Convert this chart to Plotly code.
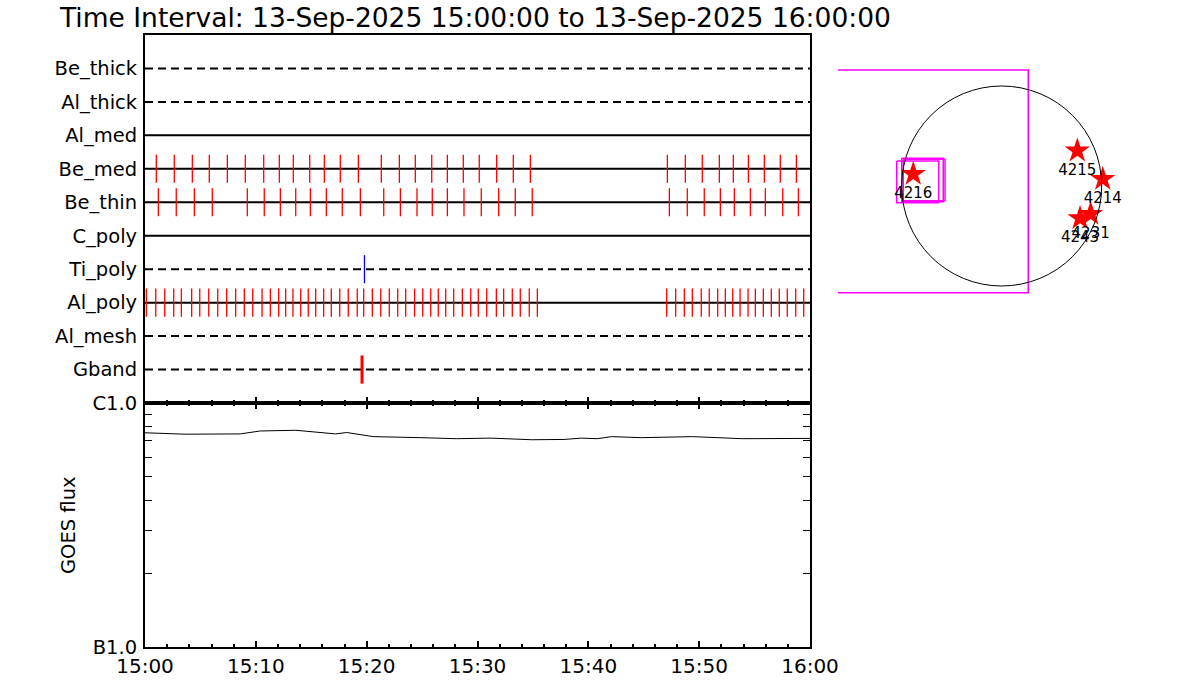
import pandas as pd
import plotly.graph_objects as go

START = pd.Timestamp("2025-09-13 15:00:00")
FONT = "DejaVu Sans"
W, H = 1200, 700

# filter rows, top to bottom
ROW_NAMES = ["Be_thick", "Al_thick", "Al_med", "Be_med", "Be_thin",
             "C_poly", "Ti_poly", "Al_poly", "Al_mesh", "Gband"]
ROW_DASHED = [True, True, False, False, False, False, True, False, True, True]

# exposure times (minutes after 15:00)
BE_MED_MIN = [1.02, 2.64, 4.27, 5.80, 7.43, 9.05, 10.71, 12.12, 13.38, 14.86,
              16.18, 17.62, 19.25, 21.32, 22.95, 24.39, 25.87, 27.28, 28.72,
              30.16, 31.73, 33.23, 34.77,
              47.13, 48.75, 50.28, 51.82, 53.08, 54.44, 55.88, 57.32, 58.77]
BE_THIN_MIN = [1.20, 2.82, 4.45, 6.07, 9.23, 10.76, 12.21, 13.60, 14.92, 16.36,
               17.80, 19.43, 21.54, 23.04, 24.54, 25.92, 27.28, 28.78, 30.34,
               31.91, 33.41, 34.94,
               47.31, 48.93, 50.46, 51.91, 53.17, 54.62, 55.97, 57.54, 58.95]
AL_POLY_MIN = [0.12, 0.97, 1.78, 2.59, 3.28, 4.21, 4.94, 5.75, 6.56, 7.37,
               8.18, 8.96, 9.72, 10.56, 11.31, 12.06, 12.69, 13.35, 14.05,
               14.73, 15.40, 16.12, 16.81, 17.57, 18.34, 19.15, 19.73, 20.51,
               21.27, 22.04, 22.80, 23.52, 24.32, 25.06, 25.78, 26.46, 27.13,
               27.85, 28.63, 29.39, 30.07, 30.83, 31.70, 32.36, 33.14, 33.86,
               34.67, 35.40,
               47.07, 47.88, 48.66, 49.38, 50.19, 50.91, 51.67, 52.36, 53.03,
               53.69, 54.41, 55.07, 55.79, 56.51, 57.23, 57.95, 58.71, 59.43]
TI_POLY_MIN = [19.80]
GBAND_MIN = [19.58]

# GOES 1-8 A flux
GOES_MIN = [0, 3.6, 8.6, 10.4, 13.6, 17.2, 18.2, 20.6, 24.9, 28.1, 31.2, 34.9,
            37.8, 39.4, 40.8, 42.1, 44.8, 49.4, 53.9, 60]
GOES_FLUX = [7.55e-6, 7.45e-6, 7.47e-6, 7.68e-6, 7.73e-6, 7.47e-6, 7.57e-6,
             7.28e-6, 7.21e-6, 7.14e-6, 7.18e-6, 7.07e-6, 7.09e-6, 7.18e-6,
             7.14e-6, 7.28e-6, 7.21e-6, 7.28e-6, 7.14e-6, 7.16e-6]
GOES_MINOR = [2e-6, 3e-6, 4e-6, 5e-6, 6e-6, 7e-6, 8e-6, 9e-6]

# active regions on the disk (arcsec)
AR_NUMS = ["4216", "4215", "4214", "4243", "4231"]
AR_X = [-849, 726, 970, 752, 854]
AR_Y = [115, 339, 67, -310, -269]
SUN_R = 960

# field-of-view boxes (arcsec): x0, x1, y0, y1
FOV_BIG = [-2000, 255, -1024, 1114]
FOV_SMALL = [[-1008, -605, -160, 240],
             [-960, -561, -151, 267],
             [-945, -544, -141, 257]]


def to_time(mins):
    return [START + pd.Timedelta(minutes=m) for m in mins]


def px_x(p):
    return p / W


def px_y(p):
    return 1 - p / H


fig = go.Figure()

t0, t1 = to_time([0, 60])
n_rows = len(ROW_NAMES)
row_y = [n_rows - i for i in range(n_rows)]

for name, y, dashed in zip(ROW_NAMES, row_y, ROW_DASHED):
    fig.add_trace(go.Scatter(
        x=[t0, t1], y=[y, y], mode="lines", xaxis="x", yaxis="y",
        line=dict(color="black", width=2, dash="8px,5px" if dashed else "solid"),
        hoverinfo="skip", showlegend=False,
    ))

exposures = [("Be_med", BE_MED_MIN, "#FF0000", 1.3),
             ("Be_thin", BE_THIN_MIN, "#FF0000", 1.3),
             ("Al_poly", AL_POLY_MIN, "#FF0000", 1.3),
             ("Ti_poly", TI_POLY_MIN, "#0000FF", 1.3),
             ("Gband", GBAND_MIN, "#FF0000", 3)]
for name, mins, color, width in exposures:
    y = row_y[ROW_NAMES.index(name)]
    xs, ys = [], []
    for t in to_time(mins):
        xs += [t, t, None]
        ys += [y - 0.42, y + 0.42, None]
    fig.add_trace(go.Scatter(
        x=xs, y=ys, mode="lines", xaxis="x", yaxis="y",
        line=dict(color=color, width=width),
        hoverinfo="skip", showlegend=False,
    ))

# GOES panel
fig.add_trace(go.Scatter(
    x=to_time(GOES_MIN), y=GOES_FLUX, mode="lines", xaxis="x2", yaxis="y2",
    line=dict(color="black", width=1), showlegend=False,
))

# solar disk panel
fig.add_shape(type="circle", xref="x3", yref="y3",
              x0=-SUN_R, x1=SUN_R, y0=-SUN_R, y1=SUN_R,
              line=dict(color="black", width=1))
for box in [FOV_BIG] + FOV_SMALL:
    bx0, bx1, by0, by1 = box
    fig.add_trace(go.Scatter(
        x=[bx0, bx1, bx1, bx0, bx0], y=[by1, by1, by0, by0, by1],
        mode="lines", xaxis="x3", yaxis="y3",
        line=dict(color="#FF00FF", width=1.5), showlegend=False,
    ))
fig.add_trace(go.Scatter(
    x=AR_X, y=AR_Y, text=AR_NUMS, mode="markers+text", xaxis="x3", yaxis="y3",
    marker=dict(symbol="star", size=19, color="#FF0000", line=dict(width=0)),
    textposition="bottom center", textfont=dict(family=FONT, size=15, color="black"),
    showlegend=False,
))

x_dom = [px_x(145), px_x(810)]
top_dom = [px_y(403), px_y(35)]
goes_dom = [px_y(647), px_y(403)]
x3_dom = [px_x(838), px_x(1166)]
y3_dom = [px_y(337), px_y(35)]
scale = SUN_R / 100.0  # arcsec per pixel

common_x = dict(
    type="date", range=[t0, t1], domain=x_dom, automargin=False,
    showline=True, linecolor="black", linewidth=2, showgrid=False, zeroline=False,
    ticks="inside", ticklen=6, tickwidth=2, tickcolor="black", dtick=600000,
    minor=dict(ticks="inside", ticklen=3, tickwidth=1.5, tickcolor="black", dtick=120000),
)

fig.update_layout(
    template="none",
    width=W, height=H,
    margin=dict(l=0, r=0, t=0, b=0, pad=0),
    paper_bgcolor="white", plot_bgcolor="white",
    font=dict(family=FONT, size=19.5, color="black"),
    showlegend=False,
    xaxis=dict(common_x, anchor="y", mirror=True, showticklabels=False),
    yaxis=dict(
        domain=top_dom, range=[0, n_rows + 1], anchor="x", automargin=False,
        showline=True, linecolor="black", linewidth=2, mirror=True,
        showgrid=False, zeroline=False, ticks="",
        tickmode="array", tickvals=row_y, ticktext=ROW_NAMES,
        tickfont=dict(size=19.5), ticklabelstandoff=2,
    ),
    xaxis2=dict(common_x, anchor="y2", mirror="ticks", showticklabels=True,
                tickformat="%H:%M", tickfont=dict(size=20), ticklabelstandoff=0),
    yaxis2=dict(
        domain=goes_dom, type="log", range=[-6, -5], anchor="x2", automargin=False,
        showline=True, linecolor="black", linewidth=2, mirror="ticks",
        showgrid=False, zeroline=False, ticks="inside", ticklen=7, tickcolor="black",
        tickmode="array", tickvals=[1e-6, 1e-5], ticktext=["B1.0", "C1.0"],
        tickfont=dict(size=19.5), ticklabelstandoff=2,
        minor=dict(ticks="inside", ticklen=7, tickcolor="black", tickmode="array",
                   tickvals=GOES_MINOR),
    ),
    xaxis3=dict(
        domain=x3_dom, anchor="y3", visible=False, automargin=False,
        range=[(838 - 1001.7) * scale, (1166 - 1001.7) * scale],
    ),
    yaxis3=dict(
        domain=y3_dom, anchor="x3", visible=False, automargin=False,
        range=[-(337 - 186) * scale, (186 - 35) * scale],
    ),
)

fig.add_annotation(
    text="Time Interval: 13-Sep-2025 15:00:00 to 13-Sep-2025 16:00:00",
    xref="paper", yref="paper", x=px_x(57), y=px_y(0),
    xanchor="left", yanchor="top", showarrow=False,
    font=dict(family=FONT, size=26.5, color="black"),
)
fig.add_annotation(
    text="GOES flux", textangle=-90,
    xref="paper", yref="paper", x=px_x(68), y=px_y(525),
    xanchor="center", yanchor="middle", showarrow=False,
    font=dict(family=FONT, size=19.5, color="black"),
)

# drop the default page margin so the figure sits at the window's corner
fig.write_html("out.html", config={"displayModeBar": False},
               post_script="document.body.style.margin='0';")
